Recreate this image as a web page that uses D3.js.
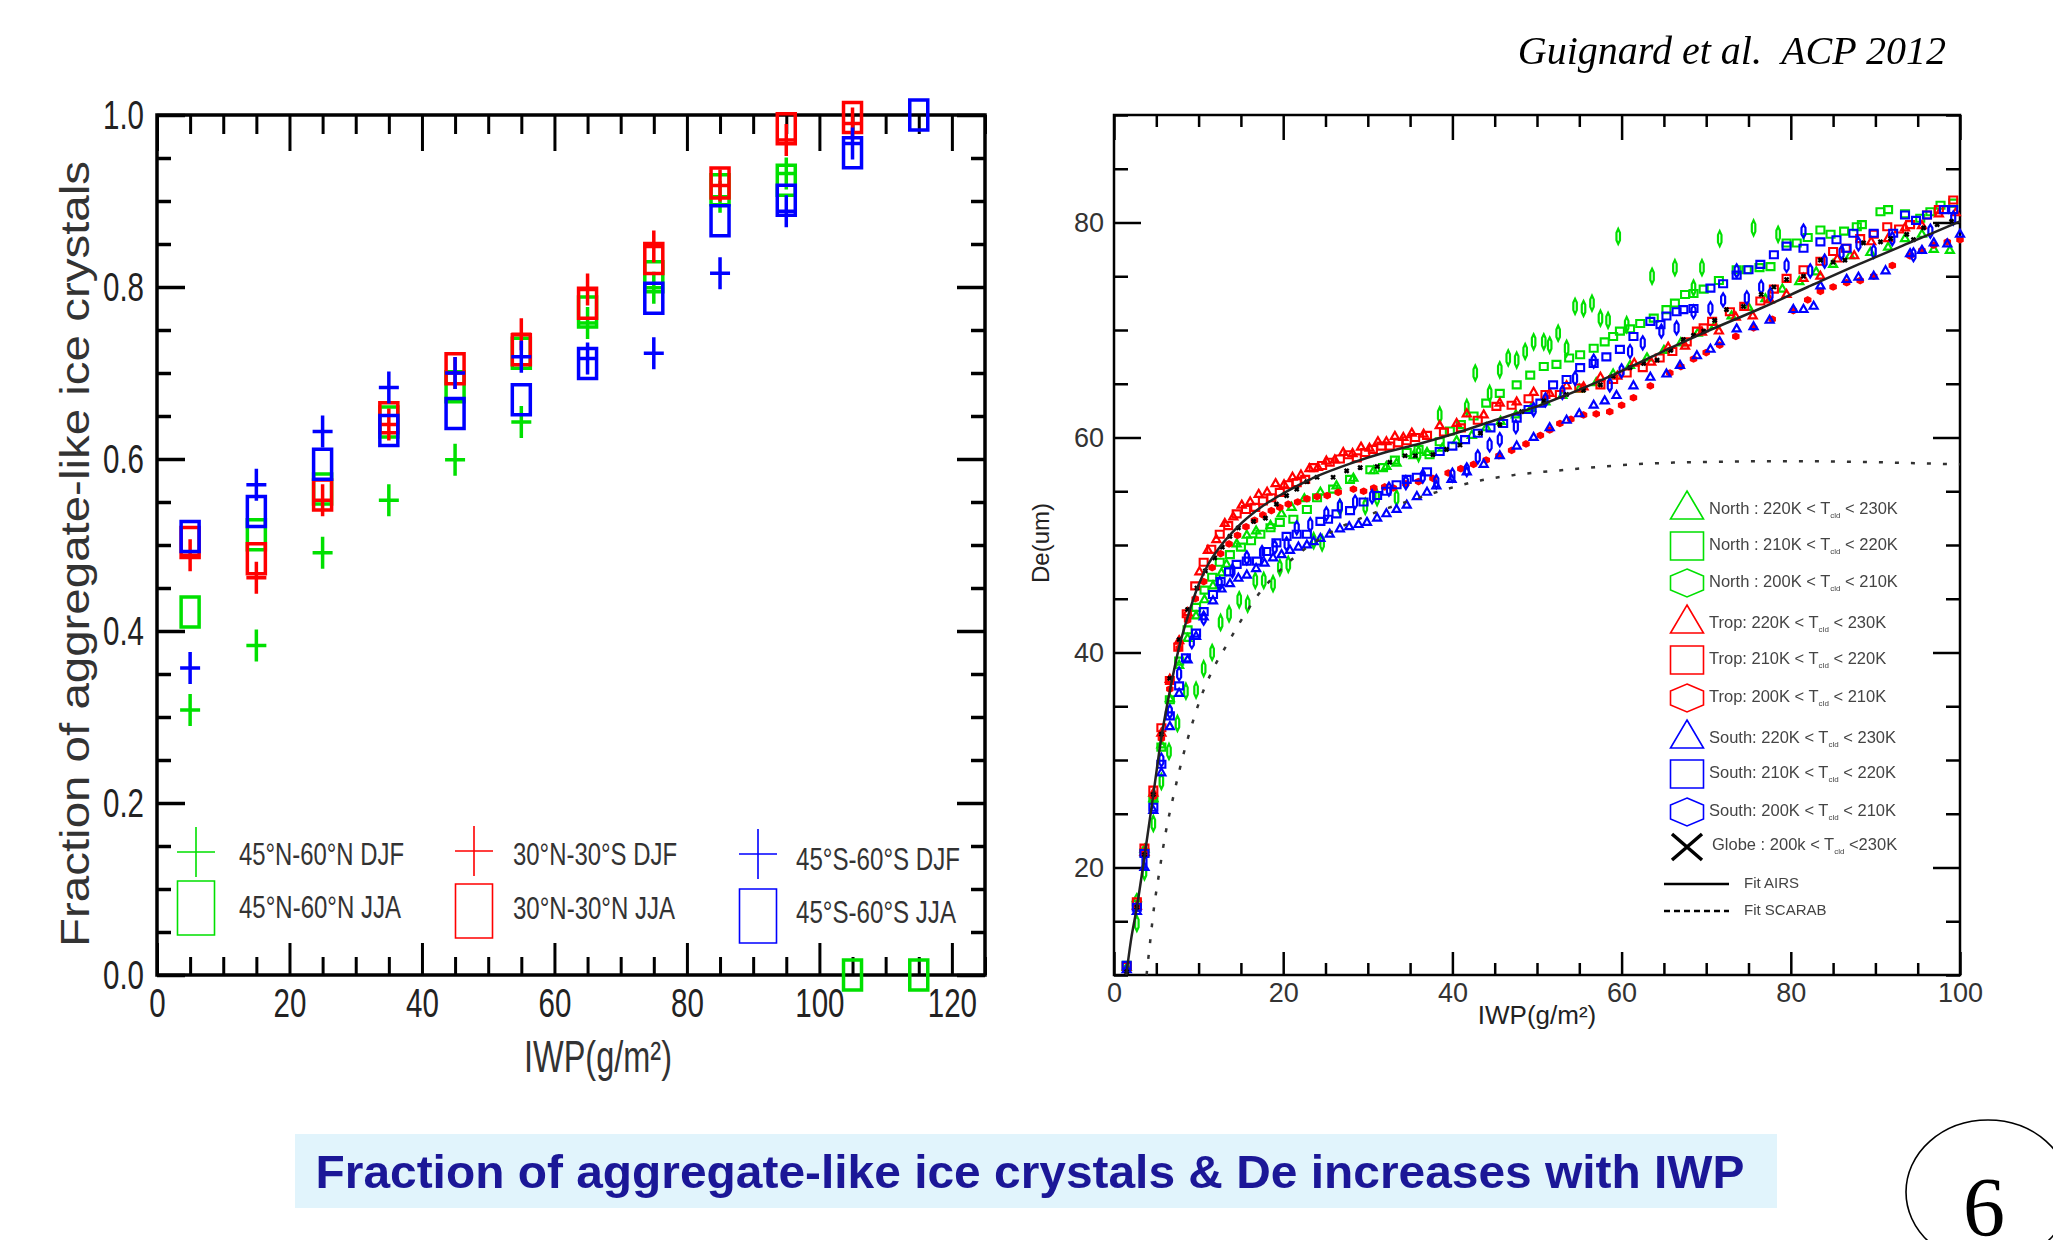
<!DOCTYPE html>
<html>
<head>
<meta charset="utf-8">
<script src="https://cdn.jsdelivr.net/npm/d3@7"></script>
<style>
body { margin: 0; background: #fff; }
svg { display: block; }
</style>
</head>
<body>
<script>
// ---------- left panel: fraction of aggregate-like ice crystals ----------
var iwpBins = [5, 15, 25, 35, 45, 55, 65, 75, 85, 95, 105, 115];
var northDJF = [0.308, 0.383, 0.491, 0.552, 0.599, 0.643, 0.758, 0.799, 0.905, 0.932, null, null];
var northJJA = [0.422, 0.512, 0.565, 0.643, 0.684, 0.723, 0.771, 0.812, 0.913, 0.924, 0.0, 0.0];
var tropDJF  = [0.488, 0.462, 0.552, 0.640, 0.700, 0.745, 0.797, 0.847, 0.918, 0.971, 0.990, null];
var tropJJA  = [0.503, 0.484, 0.558, 0.648, 0.705, 0.727, 0.781, 0.833, 0.921, 0.984, 0.997, null];
var southDJF = [0.357, 0.570, 0.632, 0.683, 0.700, 0.719, 0.717, 0.723, 0.816, 0.888, 0.967, null];
var southJJA = [0.510, 0.539, 0.594, 0.633, 0.653, 0.669, 0.711, 0.787, 0.877, 0.901, 0.956, 1.0];
var leftLegend = ["45°N-60°N DJF", "30°N-30°S DJF", "45°S-60°S DJF",
                  "45°N-60°N JJA", "30°N-30°N JJA", "45°S-60°S JJA"];
var leftXTicks = [0, 20, 40, 60, 80, 100, 120];
var leftYTicks = [0, 0.2, 0.4, 0.6, 0.8, 1.0];

// ---------- right panel: De vs IWP, [IWP, De] ----------
var northTri = [[1.5,10.8],[2.7,17.2],[3.6,21.8],[4.65,26.5],[5.6,31.5],[6.6,35.8],[7.7,38.9],[8.7,41.4],[9.7,43.5],[10.7,45.0],
  [11.7,46.3],[12.7,47.5],[13.3,48.3],[14.5,50.2],[15.7,51.0],[16.8,51.4],[18.5,51.9],[19.8,53.0],[21,53.6],[22.5,54.4],
  [24.4,55.0],[26.3,55.6],[28.3,56.3],[30.7,57.0],[32.2,57.4],[33.4,57.7],[35.4,58.4],[37,58.7],[38.8,59.1],[40.5,59.8],
  [42.3,60.3],[44,61.0],[45.7,61.6],[47.5,62.2],[49.3,62.8],[51,63.4],[53,64.0],[55,64.6],[57,65.2],[59,66.0],
  [61,66.8],[63,67.5],[65,68.2],[67,68.9],[69,69.8],[71,70.5],[73,71.4],[75,72.2],[77,73.0],[79,73.9],
  [81,74.6],[83,75.5],[85,76.2],[87,77.0],[89.4,77.3],[91.5,77.8],[93.5,78.6],[95.5,79.0],[96.9,77.6],[98.8,77.5]];
var northSq = [[1.5,10.9],[2.7,16.6],[3.6,21.4],[4.65,26.4],[5.6,31.2],[6.6,35.6],[7.7,39.2],[8.7,42.1],[9.7,44.2],[10.7,45.8],
  [11.6,47.0],[12.5,48.4],[13.7,49.1],[15,49.8],[16.2,50.4],[17.3,51.0],[18.5,51.6],[19.6,52.1],[21.2,52.4],[22.8,53.3],
  [24,54.4],[25.9,55.2],[27.9,56.1],[30.3,57.0],[31.8,57.2],[33.2,57.9],[34.6,58.6],[36,58.9],[37.3,58.4],[38.5,59.6],
  [39.7,60.6],[41,61.2],[42.5,62.0],[44,63.2],[45.6,64.1],[47.6,64.9],[49.2,65.8],[50.8,66.6],[52.3,66.8],[53.8,67.4],
  [55.1,67.7],[56.7,68.3],[58,68.9],[59,69.4],[59.8,69.9],[61,70.1],[62.2,70.6],[63.8,71.1],[65.3,71.9],[66.3,72.5],
  [67.5,73.3],[68.5,73.4],[69.7,73.8],[71.5,74.6],[73.6,75.6],[74.8,75.6],[76.3,75.8],[77.6,75.9],[79.5,78.1],[80.7,78.1],
  [82,78.6],[83.5,79.3],[84.7,78.9],[86.3,79.2],[87.8,79.6],[88.4,79.8],[90.6,81.0],[91.5,81.2],[93.5,80.8],[95.3,80.4],
  [96.5,81.0],[97.7,81.6],[99.2,81.8]];
var northHex = [[2.7,14.8],[3.6,19.6],[4.65,24.1],[5.6,28.0],[6.5,30.8],[7.5,33.4],[8.5,36.4],[9.7,36.5],[10.6,38.5],[11.6,40.0],
  [12.6,42.8],[13.6,43.6],[14.8,44.9],[15.8,44.5],[16.7,46.7],[17.7,46.7],[18.8,46.4],[19.6,47.9],[20.6,48.2],[23.6,50.4],
  [24.6,50.2],[26.7,53.5],[29.7,53.6],[31.1,54.4],[33.4,54.4],[36,58.5],[38.5,62.1],[41.7,62.8],[42.7,66.0],[44.4,64.1],
  [45.6,66.3],[46.6,67.4],[47.6,67.2],[48.6,68.0],[49.6,68.9],[50.8,68.9],[51.5,68.6],[52.5,69.7],[53.5,68.3],[54.5,72.2],
  [55.5,72.0],[56.5,72.5],[57.5,71.1],[58.4,70.9],[59.6,78.7],[60.6,70.5],[63.6,75.0],[66.3,75.8],[68.5,73.9],[69.5,75.8],
  [71.6,78.5],[75.6,79.5],[78.5,78.9]];
var tropTri = [[2.7,16.5],[3.6,21.5],[4.65,27.0],[5.6,32.6],[6.6,37.6],[7.7,41.2],[8.7,43.8],[10.1,47.6],[11.1,49.6],[12.1,50.6],
  [13.1,52.1],[14.1,52.7],[15.1,53.8],[16.1,54.1],[17.1,54.8],[18.1,55.0],[19.1,55.8],[20.1,55.7],[21.1,56.4],[22.1,56.6],
  [23.1,57.2],[24.1,57.3],[25.1,57.9],[26.1,58.0],[27.1,58.7],[28.2,58.6],[29.2,59.2],[30.2,59.1],[31.2,59.7],[32.2,59.7],
  [33.2,60.2],[34.2,60.1],[35.2,60.5],[36.6,60.4],[38.5,61.2],[40.5,61.4],[41.7,62.3],[43.7,62.2],[45.6,63.3],[47.6,63.4],
  [49.6,64.3],[51.5,64.2],[53.5,64.9],[55.5,64.8],[57.5,65.7],[59.5,65.8],[61.5,67.0],[63.5,67.1],[65.5,68.5],[67.5,68.6],
  [69.5,69.9],[71.5,70.0],[73.5,71.3],[75.5,71.4],[77.5,72.9],[79.5,73.4],[81.5,74.9],[83.5,75.1],[85.5,76.7],[87.5,77.0],
  [89.5,78.3],[91.5,78.6],[93.5,79.6],[95.5,79.8],[97.5,80.9],[99.5,81.0]];
var tropSq = [[1.5,10.8],[2.7,16.8],[3.6,21.8],[4.65,27.2],[5.6,33.0],[6.6,37.4],[7.6,40.5],[8.6,43.6],[9.6,46.2],[10.6,48.4],
  [11.5,49.6],[12.5,51.0],[13.5,51.8],[14.5,52.9],[15.6,53.3],[16.7,53.5],[17.6,54.1],[18.6,54.4],[19.6,54.9],[20.6,55.6],
  [21.6,55.8],[22.6,56.1],[23.6,57.2],[24.6,57.4],[25.5,57.7],[26.7,58.0],[27.7,58.4],[28.7,58.1],[29.7,58.6],[30.6,58.9],
  [31.6,59.2],[32.6,59.2],[33.6,59.5],[34.6,59.7],[35.6,60.0],[37,60.2],[39,60.5],[41,60.9],[43,61.6],[45.2,62.9],
  [47,63.0],[49,63.6],[51,64.0],[52.7,64.0],[55,64.6],[57.5,64.9],[59,65.4],[60.6,66.0],[62.5,66.5],[64.5,67.4],
  [66,68.0],[67.7,68.9],[68.9,69.9],[69.7,70.2],[70.7,70.8],[72.8,71.7],[74.5,72.2],[76.4,72.7],[78,73.8],[79.5,74.8],
  [81.5,75.6],[83.5,76.4],[85,77.3],[86.5,77.6],[88.2,78.5],[89.8,78.9],[91.4,79.6],[92.8,79.4],[94.1,79.8],[96.1,80.7],
  [97.5,81.2],[99.2,82.1]];
var tropHex = [[1.5,10.4],[2.7,16.2],[3.6,21.4],[4.65,26.6],[5.6,32.0],[6.6,36.6],[7.7,40.4],[8.7,43.0],[9.6,45.0],[10.6,46.6],
  [11.6,47.9],[12.6,49.2],[13.6,50.1],[14.6,50.9],[15.6,51.7],[16.6,52.3],[17.6,52.8],[18.6,53.2],[19.6,53.5],[20.6,53.8],
  [21.7,54.0],[22.8,54.3],[24,54.5],[25.2,54.6],[26.5,54.9],[28.3,55.2],[29.5,55.0],[30.7,55.3],[32,55.4],[33,55.3],
  [34.5,55.7],[36,55.9],[37.7,56.2],[39.5,56.7],[41,57.1],[42.5,57.5],[44,57.9],[45.5,58.3],[47,58.8],[48.7,59.4],
  [50.4,60.2],[51.5,60.7],[52.7,61.3],[54,61.7],[55.5,62.1],[57,62.2],[58.6,62.4],[60,63.0],[61.4,63.7],[63.4,64.8],
  [65.7,66.0],[67,66.6],[68.5,67.3],[70,67.9],[71.6,68.6],[73.5,69.4],[75.6,70.2],[77.8,71.0],[80.3,71.8],[82,72.8],
  [83.5,73.6],[85,74.0],[86.6,74.4],[88.2,74.6],[89.8,75.0],[92,76.0],[94.1,76.9],[95.5,77.4],[96.9,77.9],[98.5,78.2],
  [100,78.4]];
var southTri = [[1.5,10.6],[2.7,16.0],[3.6,20.1],[4.65,25.4],[5.6,28.9],[6.6,33.2],[7.7,36.3],[8.7,39.4],[9.7,41.6],[10.6,43.4],
  [11.7,44.9],[12.7,46.0],[13.7,46.5],[14.7,47.0],[15.7,47.3],[16.8,47.9],[17.8,48.4],[18.8,48.9],[19.8,49.2],[20.8,49.6],
  [21.8,49.9],[22.8,50.1],[23.6,50.4],[24.4,50.7],[25.5,51.1],[26.7,51.6],[27.8,51.8],[28.9,52.0],[29.9,52.2],[31.1,52.6],
  [32.2,53.0],[33.4,53.4],[34.6,53.8],[35.8,54.6],[37,55.0],[38.1,55.6],[39.9,56.2],[41.7,56.9],[43.7,57.6],[45.6,58.4],
  [47.6,59.3],[49.6,60.1],[51.5,61.0],[53.5,61.7],[55,62.3],[56.7,63.1],[58,63.5],[59.4,64.0],[61.4,64.9],[63.4,65.7],
  [65.3,66.0],[66.9,66.8],[68.9,67.7],[70.5,68.3],[71.6,69.0],[73.6,70.2],[75.6,70.4],[77.5,71.0],[80.3,72.0],[81.5,72.0],
  [82.7,72.3],[83.5,74.2],[86.6,74.8],[88,75.0],[89.8,75.1],[91.2,75.6],[94.1,77.2],[95.5,77.5],[96.9,78.2],[98.5,78.1],
  [100,79.0]];
var southSq = [[1.5,10.9],[2.7,16.3],[3.6,21.3],[4.65,25.6],[5.6,29.6],[6.6,34.1],[7.7,36.9],[8.5,39.5],[9.7,41.8],[10.6,43.8],
  [11.7,45.4],[12.6,46.6],[13.6,47.5],[14.5,48.2],[15.7,48.5],[16.9,48.5],[18,49.4],[19.2,50.2],[20.4,50.8],[21.6,51.0],
  [22.8,51.0],[24.4,52.2],[25.3,52.4],[26.3,52.9],[27.9,53.2],[29.5,54.0],[31.1,54.6],[32.2,55.0],[33.4,55.6],[34.6,56.1],
  [35.8,56.3],[37,56.8],[38.5,58.7],[40,59.2],[41.5,59.8],[43,60.4],[44.5,60.9],[46,61.3],[47.6,61.8],[49,62.6],
  [50.4,63.2],[51.9,64.9],[53.5,65.4],[55.1,66.5],[56.7,66.9],[58.2,67.5],[59.8,68.2],[61.4,69.4],[63.4,70.8],[64.6,70.5],
  [65.3,71.3],[66.5,71.7],[67.3,71.9],[68.5,72.0],[70.5,73.9],[72,74.3],[73.6,75.1],[75,75.6],[76.4,76.1],[78,77.0],
  [79.5,77.8],[81.5,77.6],[83.5,78.2],[85.4,78.4],[86.6,77.6],[87.4,79.0],[89.8,79.0],[92.1,79.0],[93.5,80.7],[94.8,80.2],
  [96.1,80.7],[98.1,81.2],[99.2,81.2]];
var southHex = [[3.6,20.5],[5.6,30.0],[6.6,34.5],[7.7,38.0],[9.2,41.0],[10.6,43.2],[12.5,46.4],[14,47.6],[15.7,48.8],[17.5,49.3],
  [19,49.8],[20.4,50.1],[21.6,51.6],[23.2,51.9],[25.1,52.9],[26.7,53.6],[28.5,54.0],[30.5,54.5],[32.5,55.2],[34.5,55.8],
  [36.5,56.4],[38.1,55.9],[40,56.5],[41.7,57.0],[43,58.2],[44.4,59.3],[45.6,59.8],[47.5,61.0],[49.6,62.6],[51,63.5],
  [53,64.2],[54.5,65.5],[56.7,67.1],[58.6,64.9],[60,66.2],[61,68.0],[62.5,68.8],[64.7,69.9],[66.5,70.2],[68.5,71.7],
  [70.5,72.0],[72,72.8],[73.6,75.5],[74.8,73.0],[76.5,74.0],[77.6,73.3],[79.5,76.0],[81.5,79.2],[82.3,75.5],[84,76.4],
  [86,77.2],[88,78.0],[89.8,77.3],[92,78.5],[94.5,77.0],[96.5,79.2],[99.2,80.4]];
var globe = [[1.5,10.3],[2.7,16.3],[3.6,21.2],[4.65,26.8],[5.6,32.4],[6.6,37.6],[7.7,41.2],[8.7,44.0],[9.8,46.0],[10.8,47.6],
  [11.9,48.8],[12.8,49.8],[13.7,50.8],[14.7,51.6],[16.5,52.2],[17.9,52.5],[19.2,53.8],[20.4,54.6],[21.6,55.2],[22.8,55.9],
  [24,56.3],[25.9,56.3],[27.5,56.9],[29.1,57.2],[31.1,57.3],[32.6,57.7],[34.4,58.3],[35.6,58.3],[37.7,58.4],[39.3,58.9],
  [40.9,59.3],[43.3,60.4],[45.6,61.2],[48.2,62.4],[50.8,63.4],[53.5,64.0],[55.5,64.4],[57.5,64.9],[59,65.7],[61,66.5],
  [62.6,66.9],[64.2,67.2],[65.8,68.1],[67.3,69.1],[68.5,69.5],[69.7,69.9],[71,70.9],[72.4,71.9],[74.4,72.2],[76.5,73.3],
  [78,74.0],[79.5,74.7],[81.5,75.0],[83.5,76.5],[85,76.3],[86.4,76.5],[88.6,78.1],[90.6,78.2],[91.8,78.5],[93.7,78.9],
  [94.5,78.4],[95.7,79.5],[97.3,79.8],[99,80.1]];
var fitAirs = [[1.45,10],[2,13.2],[2.7,16.3],[3.6,21],[4.65,26.8],[5.6,32.1],[6.6,36.4],[7.7,40.5],[8.7,43.3],[10,46.3],
  [11,48],[12.5,49.8],[14.5,51.6],[17,53.3],[20,54.8],[24,56.4],[28,57.6],[32,58.6],[36,59.4],[40,60.3],
  [45,61.6],[50,62.9],[57.5,65.3],[64.6,67.9],[69.3,69.6],[76.4,72.0],[82,74.0],[88,76.1],[94,78.1],[100,80.1]];
var fitScarab = [[3.85,10],[4.3,13.3],[4.7,16.1],[5.3,19.3],[6.1,23.2],[7.1,26.9],[8.1,30.2],[9.1,33.0],[10.3,35.9],[11.8,38.6],
  [13.4,40.8],[14.8,42.7],[16.7,45.0],[20.8,48.5],[25.9,51.3],[29.5,52.6],[33,53.6],[38.9,55.1],[43.3,56.0],[47.2,56.5],
  [53.5,57.0],[61.4,57.5],[68,57.7],[80,57.8],[90,57.7],[100,57.5]];
var rightLegendPre = ["North : 220K < T", "North : 210K < T", "North : 200K < T",
                      "Trop: 220K < T", "Trop: 210K < T", "Trop: 200K < T",
                      "South: 220K < T", "South: 210K < T", "South: 200K < T",
                      "Globe : 200k < T"];
var rightLegendPost = [" < 230K", " < 220K", " < 210K", " < 230K", " < 220K", " < 210K",
                       " < 230K", " < 220K", " < 210K", " <230K"];
var rightXTicks = [0, 20, 40, 60, 80, 100];
var rightYTicks = [20, 40, 60, 80];

var GREEN = "#00e000", RED = "#ff0000", BLUE = "#0000ff";
var SANS = "'Liberation Sans', Arial, sans-serif";

var svg = d3.select("body").append("svg")
	.attr("width", 2053)
	.attr("height", 1240)
	.style("font-family", SANS);

// a touch of blur: the source figure is a scanned bitmap
var defs = svg.append("defs");
defs.append("filter").attr("id", "soft")
	.append("feGaussianBlur").attr("stdDeviation", 0.55);

// squeeze text horizontally (the left figure uses a narrow face)
function squeeze(sel, f) {
	sel.each(function() {
		var w = this.getComputedTextLength();
		this.setAttribute("textLength", w * f);
		this.setAttribute("lengthAdjust", "spacingAndGlyphs");
	});
}

function tickRow(orient, scale, pos, values, len, width) {
	var g = svg.append("g").attr("transform", pos)
		.call(orient(scale).tickValues(values).tickSize(-len).tickFormat(""));
	g.select(".domain").remove();
	g.selectAll("text").remove();
	g.selectAll("line").attr("stroke", "#000").attr("stroke-width", width);
}

function labelRow(orient, scale, pos, values, fmt, pad, size) {
	var g = svg.append("g").attr("transform", pos)
		.call(orient(scale).tickValues(values).tickSize(0).tickPadding(pad).tickFormat(fmt));
	g.select(".domain").remove();
	g.selectAll("line").remove();
	return g.selectAll("text")
		.attr("font-size", size)
		.attr("font-family", SANS)
		.attr("fill", "#222");
}

function shape(kind, w, h) {
	var a = w / 2, b = h / 2;
	if (kind == "tri") return "M0," + (-b) + "L" + a + "," + b + "L" + (-a) + "," + b + "Z";
	if (kind == "box") return "M" + (-a) + "," + (-b) + "H" + a + "V" + b + "H" + (-a) + "Z";
	if (kind == "hex") return "M0," + (-b) + "L" + a + "," + (-b / 2) + "L" + a + "," + (b / 2) +
		"L0," + b + "L" + (-a) + "," + (b / 2) + "L" + (-a) + "," + (-b / 2) + "Z";
	if (kind == "plus") return "M0," + (-b) + "V" + b + "M" + (-a) + ",0H" + a;
	if (kind == "x") return "M" + (-a) + "," + (-b) + "L" + a + "," + b + "M" + a + "," + (-b) + "L" + (-a) + "," + b;
}

// =================== left panel ===================
var xL = d3.scaleLinear().domain([0, 125]).range([157, 985]);
var yL = d3.scaleLinear().domain([0, 1]).range([975, 115]);

var leftMinorX = d3.range(0, 126, 5).filter(function(v) { return v % 20 != 0; });
var leftMinorY = d3.range(0, 1.001, 0.05).filter(function(v) { return Math.round(v * 100) % 20 != 0; });

tickRow(d3.axisBottom, xL, "translate(0,975)", leftMinorX, 18, 3);
tickRow(d3.axisBottom, xL, "translate(0,975)", leftXTicks, 32, 3);
tickRow(d3.axisTop, xL, "translate(0,115)", leftMinorX, 19, 3);
tickRow(d3.axisTop, xL, "translate(0,115)", leftXTicks, 36, 3);
tickRow(d3.axisLeft, yL, "translate(157,0)", leftMinorY, 14, 3.5);
tickRow(d3.axisLeft, yL, "translate(157,0)", leftYTicks, 28, 3.5);
tickRow(d3.axisRight, yL, "translate(985,0)", leftMinorY, 14, 3.5);
tickRow(d3.axisRight, yL, "translate(985,0)", leftYTicks, 28, 3.5);

svg.append("rect").attr("x", 157).attr("y", 115).attr("width", 828).attr("height", 860)
	.attr("fill", "none").attr("stroke", "#000").attr("stroke-width", 3.5);

squeeze(labelRow(d3.axisBottom, xL, "translate(0,975)", leftXTicks, d3.format("d"), 13, 41), 0.72);
squeeze(labelRow(d3.axisLeft, yL, "translate(157,0)", leftYTicks, d3.format(".1f"), 13, 41), 0.72);

svg.append("text").attr("x", 598).attr("y", 1072).attr("text-anchor", "middle")
	.attr("font-size", 44).attr("fill", "#333")
	.attr("textLength", 148).attr("lengthAdjust", "spacingAndGlyphs")
	.text("IWP(g/m²)");

svg.append("text").attr("transform", "translate(75,554) rotate(-90)").attr("text-anchor", "middle")
	.attr("font-size", 40).attr("fill", "#333").attr("dy", "0.35em")
	.attr("textLength", 786).attr("lengthAdjust", "spacingAndGlyphs")
	.text("Fraction of aggregate-like ice crystals");

var leftSeries = [
	{ vals: northJJA, color: GREEN, mark: "box" },
	{ vals: northDJF, color: GREEN, mark: "plus" },
	{ vals: tropJJA, color: RED, mark: "box" },
	{ vals: tropDJF, color: RED, mark: "plus" },
	{ vals: southJJA, color: BLUE, mark: "box" },
	{ vals: southDJF, color: BLUE, mark: "plus" }
];

leftSeries.forEach(function(s) {
	var pts = iwpBins.map(function(b, i) { return [b, s.vals[i]]; })
		.filter(function(p) { return p[1] !== null; });
	svg.append("g").selectAll("path")
		.data(pts)
		.enter().append("path")
		.attr("transform", function(d) { return "translate(" + xL(d[0]) + "," + yL(d[1]) + ")"; })
		.attr("d", s.mark == "box" ? shape("box", 18, 30) : shape("plus", 20, 32))
		.attr("fill", "none")
		.attr("stroke", s.color)
		.attr("stroke-width", 3.5);
});

// left legend: 3 columns (regions) x 2 rows (DJF +, JJA box)
var legCols = [
	{ sx: 196, tx: 239, color: GREEN, y1: 852, y2: 908, t1: 865, t2: 918, w1: 165, w2: 162 },
	{ sx: 474, tx: 513, color: RED, y1: 851, y2: 911, t1: 865, t2: 919, w1: 164, w2: 162 },
	{ sx: 758, tx: 796, color: BLUE, y1: 854, y2: 916, t1: 870, t2: 923, w1: 164, w2: 160 }
];
legCols.forEach(function(c, i) {
	svg.append("path").attr("transform", "translate(" + c.sx + "," + c.y1 + ")")
		.attr("d", shape("plus", 38, 50)).attr("fill", "none").attr("stroke", c.color).attr("stroke-width", 1.6);
	svg.append("path").attr("transform", "translate(" + c.sx + "," + c.y2 + ")")
		.attr("d", shape("box", 37, 54)).attr("fill", "none").attr("stroke", c.color).attr("stroke-width", 1.6);
	svg.append("text").attr("x", c.tx).attr("y", c.t1).attr("font-size", 31).attr("fill", "#333")
		.attr("textLength", c.w1).attr("lengthAdjust", "spacingAndGlyphs").text(leftLegend[i]);
	svg.append("text").attr("x", c.tx).attr("y", c.t2).attr("font-size", 31).attr("fill", "#333")
		.attr("textLength", c.w2).attr("lengthAdjust", "spacingAndGlyphs").text(leftLegend[i + 3]);
});

// =================== right panel ===================
var xR = d3.scaleLinear().domain([0, 100]).range([1114, 1960]);
var yR = d3.scaleLinear().domain([10, 90]).range([975, 115]);

var rightMinorX = d3.range(0, 101, 5).filter(function(v) { return v % 20 != 0; });
var rightMinorY = d3.range(10, 91, 5).filter(function(v) { return v % 20 != 0; });

tickRow(d3.axisBottom, xR, "translate(0,975)", rightMinorX, 12, 2.5);
tickRow(d3.axisBottom, xR, "translate(0,975)", rightXTicks, 23, 2.5);
tickRow(d3.axisTop, xR, "translate(0,115)", rightMinorX, 12, 2.5);
tickRow(d3.axisTop, xR, "translate(0,115)", rightXTicks, 25, 2.5);
tickRow(d3.axisLeft, yR, "translate(1114,0)", rightMinorY, 14, 2.5);
tickRow(d3.axisLeft, yR, "translate(1114,0)", rightYTicks, 27, 2.5);
tickRow(d3.axisRight, yR, "translate(1960,0)", rightMinorY, 14, 2.5);
tickRow(d3.axisRight, yR, "translate(1960,0)", rightYTicks, 27, 2.5);

svg.append("rect").attr("x", 1114).attr("y", 115).attr("width", 846).attr("height", 860)
	.attr("fill", "none").attr("stroke", "#000").attr("stroke-width", 2.5);

labelRow(d3.axisBottom, xR, "translate(0,975)", rightXTicks, d3.format("d"), 8, 27).attr("fill", "#333");
labelRow(d3.axisLeft, yR, "translate(1114,0)", rightYTicks, d3.format("d"), 10, 27).attr("fill", "#333");

svg.append("text").attr("x", 1537).attr("y", 1024).attr("text-anchor", "middle")
	.attr("font-size", 26).attr("fill", "#222").text("IWP(g/m²)");
svg.append("text").attr("transform", "translate(1041,543) rotate(-90)").attr("text-anchor", "middle")
	.attr("dy", "0.35em").attr("font-size", 24).attr("fill", "#222").text("De(um)");

var rightSeries = [
	{ data: northHex, color: GREEN, d: shape("hex", 3.5, 15), fill: "none", sw: 2.2 },
	{ data: northSq, color: GREEN, d: shape("box", 8, 7), fill: "none", sw: 2.1 },
	{ data: northTri, color: GREEN, d: shape("tri", 8, 7), fill: "none", sw: 2.2 },
	{ data: tropHex, color: RED, d: shape("hex", 6, 6), fill: RED, sw: 1.5 },
	{ data: tropTri, color: RED, d: shape("tri", 8, 7), fill: "none", sw: 2.2 },
	{ data: tropSq, color: RED, d: shape("box", 8, 7), fill: "none", sw: 2.1 },
	{ data: southTri, color: BLUE, d: shape("tri", 8, 7), fill: "none", sw: 2.2 },
	{ data: southHex, color: BLUE, d: shape("hex", 4, 13), fill: "none", sw: 2.2 },
	{ data: southSq, color: BLUE, d: shape("box", 8, 7), fill: "none", sw: 2.1 },
	{ data: globe, color: "#000", d: shape("x", 4, 4), fill: "none", sw: 2.4 }
];

var pts = svg.append("g").attr("filter", "url(#soft)");
rightSeries.forEach(function(s) {
	pts.append("g").selectAll("path")
		.data(s.data)
		.enter().append("path")
		.attr("transform", function(d) { return "translate(" + xR(d[0]) + "," + yR(d[1]) + ")"; })
		.attr("d", s.d)
		.attr("fill", s.fill)
		.attr("stroke", s.color)
		.attr("stroke-width", s.sw);
});

var fitLine = d3.line()
	.x(function(d) { return xR(d[0]); })
	.y(function(d) { return yR(d[1]); })
	.curve(d3.curveMonotoneX);

svg.append("path").attr("d", fitLine(fitAirs))
	.attr("fill", "none").attr("stroke", "#222").attr("stroke-width", 2.5);
svg.append("path").attr("d", fitLine(fitScarab))
	.attr("fill", "none").attr("stroke", "#333").attr("stroke-width", 2.5)
	.attr("stroke-dasharray", "4,12");

// right legend
var legKinds = ["tri", "box", "hex", "tri", "box", "hex", "tri", "box", "hex", "x"];
var legColors = [GREEN, GREEN, GREEN, RED, RED, RED, BLUE, BLUE, BLUE, "#000"];
var legSymY = [505, 546, 583, 619, 660, 698, 734, 774, 812, 847];
var legBase = [514, 550, 587, 628, 664, 702, 743, 778, 816, 850];

rightLegendPre.forEach(function(pre, i) {
	var isX = legKinds[i] == "x";
	svg.append("path")
		.attr("transform", "translate(1687," + legSymY[i] + ")")
		.attr("d", shape(legKinds[i], isX ? 30 : 33, isX ? 26 : 28))
		.attr("fill", "none")
		.attr("stroke", legColors[i])
		.attr("stroke-width", isX ? 3.5 : 1.6);
	var t = svg.append("text").attr("x", isX ? 1712 : 1709).attr("y", legBase[i])
		.attr("font-size", 16.5).attr("fill", "#444");
	t.append("tspan").text(pre);
	t.append("tspan").attr("font-size", 8).attr("dy", 4).text("cld");
	t.append("tspan").attr("dy", -4).text(rightLegendPost[i]);
});

svg.append("line").attr("x1", 1664).attr("x2", 1729).attr("y1", 884).attr("y2", 884)
	.attr("stroke", "#000").attr("stroke-width", 2.5);
svg.append("line").attr("x1", 1664).attr("x2", 1729).attr("y1", 911).attr("y2", 911)
	.attr("stroke", "#000").attr("stroke-width", 2.5).attr("stroke-dasharray", "6,4");
svg.append("text").attr("x", 1744).attr("y", 888).attr("font-size", 15).attr("fill", "#444").text("Fit AIRS");
svg.append("text").attr("x", 1744).attr("y", 915).attr("font-size", 15).attr("fill", "#444").text("Fit SCARAB");

// =================== page furniture ===================
svg.append("text").attr("x", 1946).attr("y", 64).attr("text-anchor", "end")
	.attr("font-family", "'Liberation Serif', 'Times New Roman', serif")
	.attr("font-style", "italic").attr("font-size", 40).attr("fill", "#000")
	.style("white-space", "pre")
	.text("Guignard et al.  ACP 2012");

svg.append("rect").attr("x", 295).attr("y", 1134).attr("width", 1482).attr("height", 74)
	.attr("fill", "#e1f4fc");
svg.append("text").attr("x", 1030).attr("y", 1188).attr("text-anchor", "middle")
	.attr("font-weight", "bold").attr("font-size", 47).attr("fill", "#1b1797")
	.attr("textLength", 1429).attr("lengthAdjust", "spacingAndGlyphs")
	.text("Fraction of aggregate-like ice crystals & De increases with IWP");

svg.append("ellipse").attr("cx", 1988).attr("cy", 1192).attr("rx", 82).attr("ry", 72)
	.attr("fill", "none").attr("stroke", "#000").attr("stroke-width", 1.6);
svg.append("text").attr("x", 1984).attr("y", 1236).attr("text-anchor", "middle")
	.attr("font-family", "'Liberation Serif', 'Times New Roman', serif")
	.attr("font-size", 84).attr("fill", "#000").text("6");
</script>
</body>
</html>
